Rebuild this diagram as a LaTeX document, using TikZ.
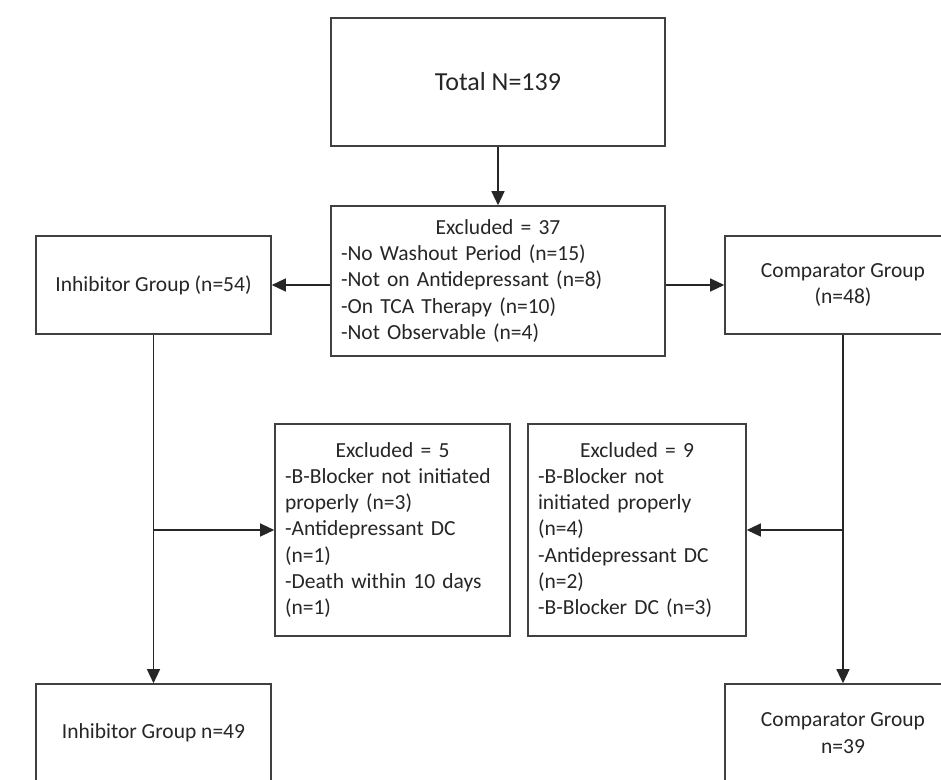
\documentclass[tikz,border=0pt]{standalone}
\usepackage{fontspec}
\setmainfont{Carlito}
\usetikzlibrary{arrows.meta}
\definecolor{boxline}{HTML}{404040}
\definecolor{txt}{HTML}{262626}
\tikzset{
  box/.style={draw=boxline, line width=1.6pt, fill=white, inner xsep=10pt, inner ysep=0pt,
    text=txt, font=\fontsize{21.5}{26.2}\selectfont, align=center},
  listbox/.style={box, align=left},
  arr/.style={draw=black!85, line width=1.3pt, -{Triangle[length=14pt,width=13pt]}}
}
\begin{document}
\begin{tikzpicture}[x=1pt,y={(0pt,-1pt)}]
\useasboundingbox (0,0) rectangle (941,779);
\clip (0,0) rectangle (941,779);
\node[box, minimum width=334pt, minimum height=128pt, font=\fontsize{26}{31}\selectfont] (total) at (498,82) {Total N=139};
\node[listbox, text width=314pt, minimum height=150pt] (ex37) at (498,281)
  {\makebox[\linewidth]{Excluded = 37}\\-No Washout Period (n=15)\\-Not on Antidepressant (n=8)\\-On TCA Therapy (n=10)\\-Not Observable (n=4)};
\node[box, minimum width=235pt, minimum height=98pt] (inh1) at (153.5,285) {Inhibitor Group (n=54)};
\node[box, minimum width=236pt, minimum height=98pt] (comp1) at (843,285) {Comparator Group\\(n=48)};
\node[listbox, text width=215pt, minimum height=212pt] (ex5) at (392.5,530)
  {\makebox[\linewidth]{Excluded = 5}\\-B-Blocker not initiated\\properly (n=3)\\-Antidepressant DC\\(n=1)\\-Death within 10 days\\(n=1)};
\node[listbox, text width=198pt, minimum height=212pt] (ex9) at (637,530)
  {\makebox[\linewidth]{Excluded = 9}\\-B-Blocker not\\initiated properly\\(n=4)\\-Antidepressant DC\\(n=2)\\-B-Blocker DC (n=3)};
\node[box, minimum width=235pt, minimum height=98pt] (inh2) at (153.5,733) {Inhibitor Group n=49};
\node[box, minimum width=236pt, minimum height=98pt] (comp2) at (843,733) {Comparator Group\\n=39};
\draw[arr] (total) -- (ex37);
\draw[arr] (ex37.west |- inh1.east) -- (inh1.east);
\draw[arr] (ex37.east |- comp1.west) -- (comp1.west);
\draw[arr] (inh1) -- (inh2);
\draw[arr] (inh1.south |- ex5.west) -- (ex5.west);
\draw[arr] (comp1) -- (comp2);
\draw[arr] (comp1.south |- ex9.east) -- (ex9.east);
\end{tikzpicture}
\end{document}
